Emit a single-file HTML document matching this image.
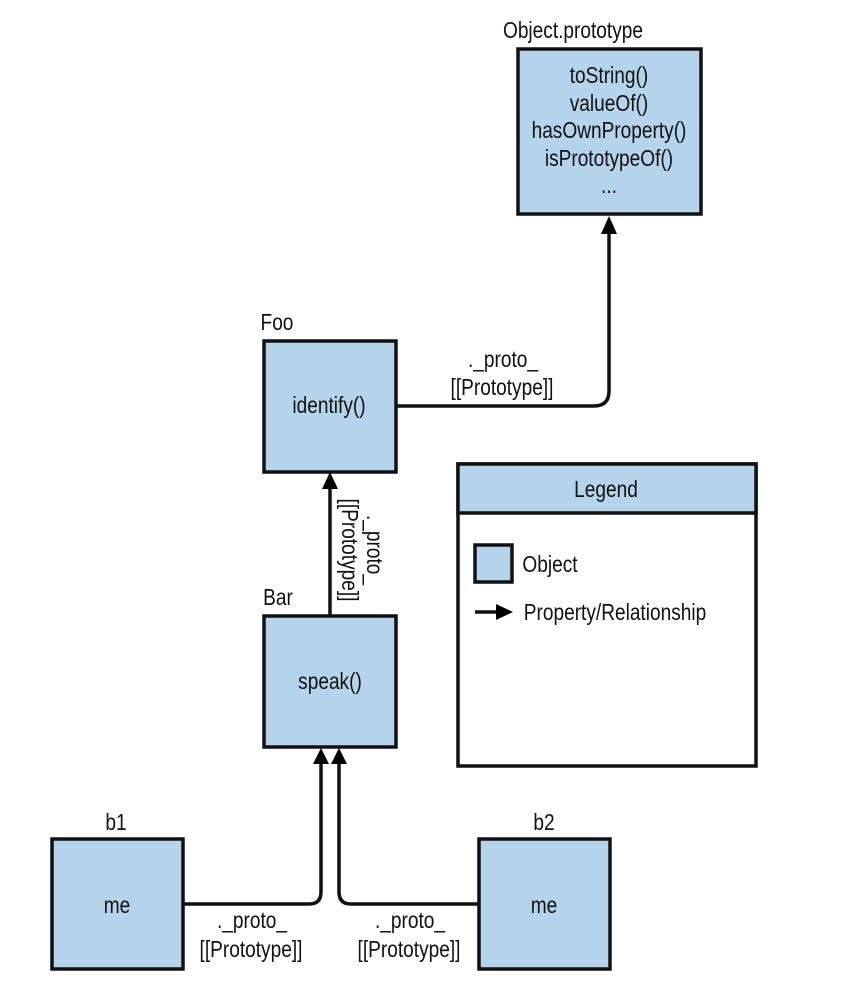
<!DOCTYPE html>
<html><head><meta charset="utf-8"><style>
html,body{margin:0;padding:0;background:#fff}
svg text{font-family:"Liberation Sans",sans-serif;font-size:23px;fill:#111;text-anchor:middle;transform-box:fill-box;transform-origin:center;transform:scaleX(.83)}
</style></head><body>
<svg width="846" height="986" viewBox="0 0 846 986" xmlns="http://www.w3.org/2000/svg">
<g stroke="#111" stroke-width="3.5" fill="#b3d4ea">
<rect x="518" y="49" width="183" height="165"/>
<rect x="264" y="341" width="132" height="131"/>
<rect x="264" y="616" width="132" height="131"/>
<rect x="52" y="839" width="131" height="130"/>
<rect x="479" y="839" width="131" height="130"/>
<rect x="458" y="464" width="298" height="302" fill="#fff"/>
<rect x="458" y="464" width="298" height="49"/>
<rect x="475" y="545" width="37" height="37"/>
</g>
<g stroke="#111" stroke-width="3.5" fill="none">
<path d="M396 406 H594 Q609 406 609 391 V230"/>
<path d="M330 616 V484"/>
<path d="M183 904 H309 Q321 904 321 892 V760"/>
<path d="M479 904 H351 Q339 904 339 892 V760"/>
<path d="M475 612 H498"/>
</g>
<g fill="#000">
<path d="M601 234 L609 216 L617 234Z"/>
<path d="M322 489 L330 472 L338 489Z"/>
<path d="M313 764 L321 748 L329 764Z"/>
<path d="M331 764 L339 748 L347 764Z"/>
<path d="M496 604 L513 612 L496 620Z"/>
</g>
<text x="573" y="38">Object.prototype</text>
<text x="609" y="83">toString()</text>
<text x="609" y="111">valueOf()</text>
<text x="609" y="138">hasOwnProperty()</text>
<text x="609" y="166">isPrototypeOf()</text>
<text x="609" y="193">...</text>
<text x="277" y="330">Foo</text>
<text x="329" y="413">identify()</text>
<text x="503" y="367">._proto_</text>
<text x="502" y="395">[[Prototype]]</text>
<text x="278" y="605">Bar</text>
<text x="330" y="689">speak()</text>
<g transform="translate(342 550) rotate(90)"><text x="0" y="0">[[Prototype]]</text></g>
<g transform="translate(367 550) rotate(90)"><text x="0" y="0">._proto_</text></g>
<text x="116" y="830">b1</text>
<text x="117" y="913">me</text>
<text x="544" y="830">b2</text>
<text x="544" y="913">me</text>
<text x="252" y="928">._proto_</text>
<text x="251" y="957">[[Prototype]]</text>
<text x="410" y="928">._proto_</text>
<text x="409" y="957">[[Prototype]]</text>
<text x="606" y="497">Legend</text>
<text x="550" y="572">Object</text>
<text x="615" y="620">Property/Relationship</text>
</svg>
</body></html>
